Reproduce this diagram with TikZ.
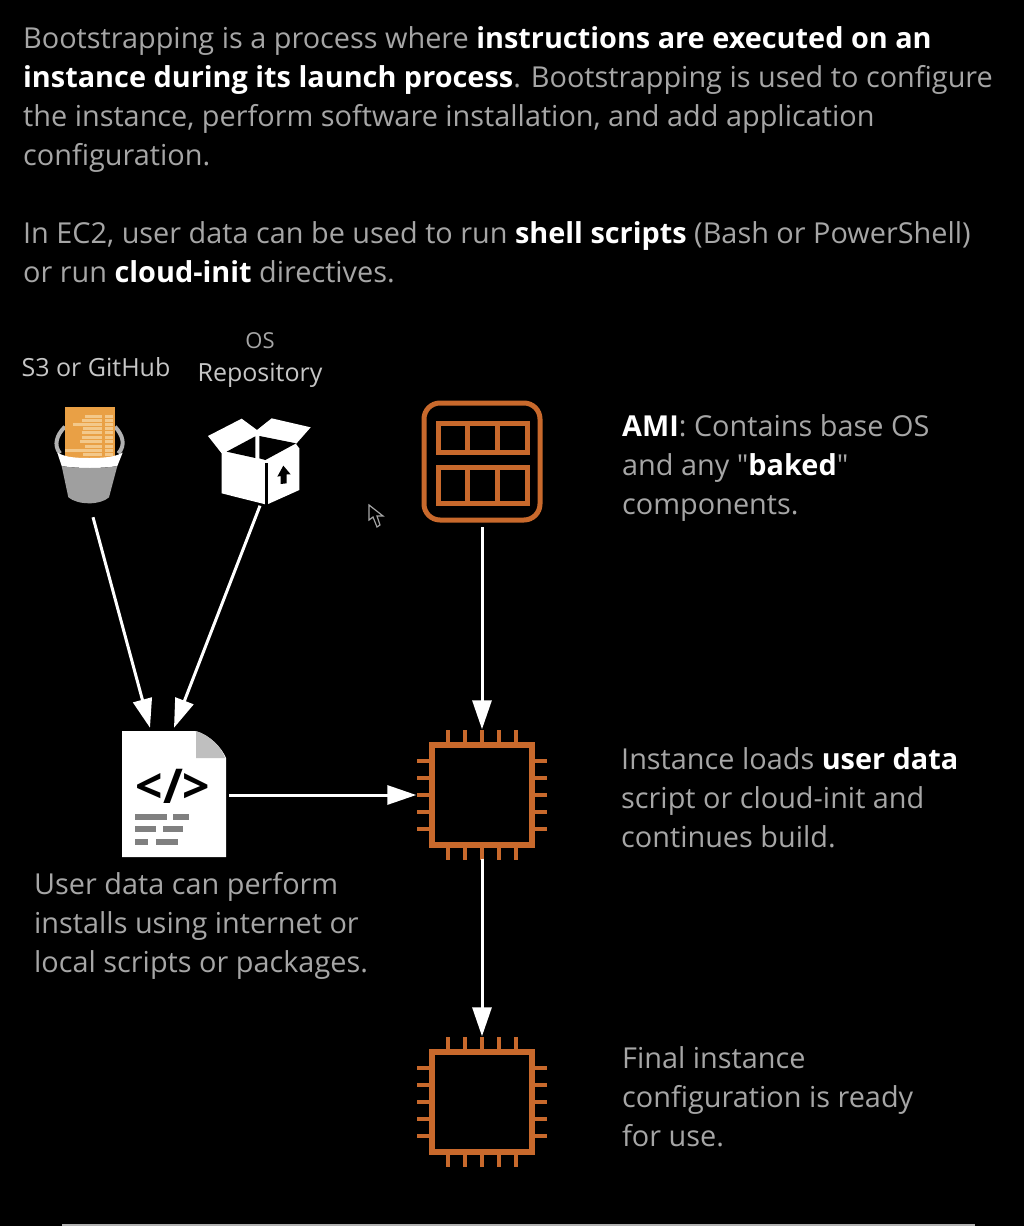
\documentclass[tikz,border=0pt]{standalone}
\usepackage{fontspec}
\setmainfont{Open Sans}[Ligatures=TeXOff]
\usetikzlibrary{arrows.meta,positioning}
\definecolor{bodygray}{HTML}{A6A6A6}
\definecolor{chiporange}{HTML}{C8692C}
\definecolor{dashgray}{HTML}{808080}
\definecolor{scriptorange}{HTML}{E9A045}
\definecolor{scriptpale}{HTML}{F3C88A}
\newcommand{\hl}[1]{\textbf{\textcolor{white}{#1}}}
\tikzset{
  bodytxt/.style={anchor=north west,inner sep=0pt,align=left,text=bodygray,font=\fontsize{28.85}{39}\selectfont},
  labeltxt/.style={anchor=base,inner sep=0pt,text=gray!45!white,font=\fontsize{25}{28}\selectfont},
  iconbox/.style={inner sep=0pt,minimum width=#1},
  flow/.style={draw=white,line width=3pt,-{Triangle[length=29pt,width=19pt]}},
  pics/chipicon/.style={code={
    \draw[chiporange,line width=5.5pt] (-50,-50) rectangle (50,50);
    \foreach \p in {-34,-17,0,17,34} {
      \draw[chiporange,line width=4.5pt] (\p,-65) -- (\p,-50);
      \draw[chiporange,line width=4.5pt] (\p,50) -- (\p,65);
      \draw[chiporange,line width=4.5pt] (-65,\p) -- (-50,\p);
      \draw[chiporange,line width=4.5pt] (50,\p) -- (65,\p);
    }
  }}
}
\begin{document}
\begin{tikzpicture}[x=1pt,y=-1pt]
\fill[black] (0,0) rectangle (1024,1226);
\useasboundingbox (0,0) rectangle (1024,1226);
\draw[gray!60,line width=1.5pt] (62,1225) -- (975,1225);

% intro text
\node[bodytxt] (intro) at (23,26) {Bootstrapping is a process where \hl{instructions are executed on an}\\
\hl{instance during its launch process}. Bootstrapping is used to configure\\
the instance, perform software installation, and add application\\
configuration.};
\node[bodytxt] (ectwo) at (23,221) {In EC2, user data can be used to run \hl{shell scripts} (Bash or PowerShell)\\
or run \hl{cloud-init} directives.};

% source labels
\node[labeltxt] (s3label) at (96,376) {S3 or GitHub};
\node[labeltxt,text=bodygray,font=\fontsize{22}{24}\selectfont] (oslabel) at (260,348) {OS};
\node[labeltxt] (repolabel) at (260,381) {Repository};

% bucket
\node[iconbox=68pt,minimum height=96pt] (bucket) at (90,455) {};
\begin{scope}[shift={(0,320)},scale=1/3]
\draw[gray!60!white,line width=4pt] (195,320) .. controls (170,345) and (160,375) .. (180,400);
\draw[gray!60!white,line width=4pt] (345,320) .. controls (368,345) and (378,375) .. (355,400);
\fill[scriptorange] (195,262) rectangle (345,415);
\foreach \l/\y in {255/290,245/300,220/312,250/325,245/338,245/352,240/365,255/378,195/390,250/402} {
  \draw[scriptpale,line width=3pt] (\l,\y) -- (305,\y);
  \draw[scriptpale,line width=3pt] (315,\y) -- (340,\y);
}
\fill[white] (172,398) .. controls (195,410) and (215,414) .. (268,414) .. controls (320,414) and (345,410) .. (368,398) -- (352,438) .. controls (310,446) and (230,446) .. (185,438) -- cycle;
\fill[gray!75!white] (185,438) .. controls (230,446) and (310,446) .. (352,438) -- (327,532) .. controls (300,556) and (235,556) .. (205,532) -- cycle;
\end{scope}

% box
\node[iconbox=102pt,minimum height=87pt] (box) at (260,462) {};
\begin{scope}[shift={(0,320)},scale=1/3]
\fill[white] (624,348) -- (725,296) -- (771,330) -- (815,295) -- (932,322) -- (888,372) -- (898,385) -- (898,510) -- (800,554) -- (665,520) -- (665,400) -- cycle;
\fill[black] (680,395) -- (766,349) -- (766,414) -- cycle;
\fill[black] (778,348) -- (888,370) -- (796,420) -- (778,415) -- cycle;
\draw[black,line width=3pt] (800,430) -- (800,554);
\fill[black] (850,437) -- (872,463) -- (860,463) -- (860,490) -- (842,492) -- (842,468) -- (832,470) -- cycle;
\end{scope}

% cursor
\draw[gray!70!white,line width=1.2pt] (369,505) -- (369,520) -- (373,517) -- (377,527) -- (380,525) -- (377,516) -- (383,516) -- cycle;

% ami
\node[iconbox=122pt,minimum height=122pt] (ami) at (482,462) {};
\draw[chiporange,line width=5pt,rounded corners=16pt] (424,403) rectangle (540,520);
\draw[chiporange,line width=5pt] (438,423) rectangle (527,452);
\draw[chiporange,line width=5pt] (438,467) rectangle (527,503);
\foreach \x in {467,497} {
  \draw[chiporange,line width=5pt] (\x,423) -- (\x,452);
  \draw[chiporange,line width=5pt] (\x,467) -- (\x,503);
}

% user data file
\node[iconbox=106pt,minimum height=128pt] (userdata) at (174,795) {};
\fill[white] (122,731) -- (195,731) .. controls (210,735) and (222,748) .. (226,758) -- (226,857) -- (122,857) -- cycle;
\fill[gray!50!white] (196,731) .. controls (210,735) and (222,748) .. (225,758) -- (196,758) -- cycle;
\node[inner sep=0pt,text=black,font=\fontsize{48}{48}\selectfont\bfseries] (codetag) at (173,786) {</>};
\foreach \a/\b/\y in {135/167/817,135/156/829,135/148/842} \fill[dashgray] (\a,\y-3) rectangle (\b,\y+3);
\foreach \a/\b/\y in {173/189/817,163/183/829,156/178/842} \fill[dashgray] (\a,\y-3) rectangle (\b,\y+3);

% instances
\node[iconbox=131pt,minimum height=131pt] (chipbuild) at (482,795) {};
\node[iconbox=131pt,minimum height=131pt] (chipfinal) at (482,1102) {};
\pic at (482,795) {chipicon};
\pic at (482,1102) {chipicon};

% connectors
\draw[flow] ([xshift=3pt,yshift=-14pt]bucket.south) -- ([xshift=-24pt,yshift=3pt]userdata.north);
\draw[flow] (box.south) -- ([yshift=3pt]userdata.north);
\draw[flow] ([yshift=-4pt]ami.south) -- (chipbuild.north);
\draw[flow] ([xshift=2pt]userdata.east) -- (chipbuild.west);
\draw[flow] ([yshift=2pt]chipbuild.south) -- (chipfinal.north);

% side text
\node[bodytxt] (amitxt) at (622,414) {\hl{AMI}: Contains base OS\\and any "\hl{baked}"\\components.};
\node[bodytxt] (loadtxt) at (621,747) {Instance loads \hl{user data}\\script or cloud-init and\\continues build.};
\node[bodytxt] (finaltxt) at (622,1046) {Final instance\\configuration is ready\\for use.};
\node[bodytxt] (usertxt) at (34,872) {User data can perform\\installs using internet or\\local scripts or packages.};
\end{tikzpicture}
\end{document}
